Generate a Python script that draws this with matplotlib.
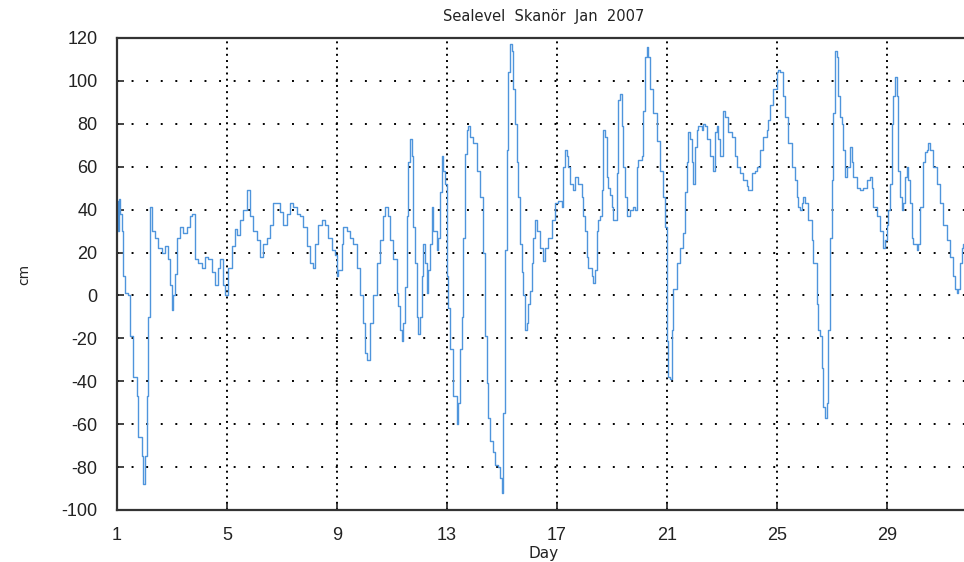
import matplotlib.pyplot as plt
import numpy as np

# ── DATA ─────────────────────────────────────────────────────────────
day = [
    1.00, 1.03, 1.06, 1.10, 1.17, 1.23, 1.29, 1.41, 1.47, 1.59, 1.71, 1.78, 1.90, 1.96,
    2.02, 2.08, 2.14, 2.20, 2.26, 2.38, 2.50, 2.62, 2.75, 2.87, 2.93, 2.99, 3.05, 3.11,
    3.17, 3.29, 3.41, 3.53, 3.65, 3.71, 3.84, 3.96, 4.08, 4.20, 4.32, 4.44, 4.56, 4.68,
    4.75, 4.87, 4.93, 5.05, 5.17, 5.29, 5.35, 5.47, 5.59, 5.71, 5.84, 5.96, 6.08, 6.20,
    6.32, 6.44, 6.56, 6.68, 6.81, 6.93, 7.05, 7.17, 7.29, 7.41, 7.53, 7.65, 7.77, 7.90,
    8.02, 8.14, 8.20, 8.32, 8.44, 8.56, 8.68, 8.81, 8.93, 8.99, 9.05, 9.17, 9.23, 9.35,
    9.47, 9.59, 9.71, 9.84, 9.96, 10.02, 10.08, 10.20, 10.32, 10.44, 10.56, 10.68, 10.75,
    10.87, 10.93, 11.05, 11.17, 11.23, 11.29, 11.35, 11.41, 11.47, 11.53, 11.59, 11.65,
    11.71, 11.78, 11.84, 11.90, 11.96, 12.02, 12.08, 12.14, 12.20, 12.26, 12.32, 12.38,
    12.44, 12.50, 12.62, 12.68, 12.75, 12.81, 12.87, 12.93, 12.99, 13.05, 13.11, 13.23,
    13.35, 13.41, 13.47, 13.53, 13.59, 13.65, 13.71, 13.77, 13.84, 13.96, 14.08, 14.20,
    14.32, 14.38, 14.44, 14.50, 14.56, 14.68, 14.75, 14.87, 14.93, 14.99, 15.05, 15.11,
    15.17, 15.23, 15.29, 15.35, 15.41, 15.47, 15.53, 15.59, 15.65, 15.71, 15.78, 15.84,
    15.90, 15.96, 16.02, 16.08, 16.14, 16.20, 16.26, 16.38, 16.50, 16.56, 16.68, 16.81,
    16.93, 17.05, 17.17, 17.23, 17.29, 17.35, 17.41, 17.47, 17.59, 17.65, 17.78, 17.90,
    17.96, 18.02, 18.08, 18.14, 18.26, 18.32, 18.38, 18.44, 18.50, 18.56, 18.62, 18.68,
    18.75, 18.81, 18.87, 18.93, 18.99, 19.05, 19.17, 19.23, 19.29, 19.35, 19.41, 19.47,
    19.53, 19.65, 19.78, 19.84, 19.90, 19.96, 20.08, 20.14, 20.20, 20.26, 20.32, 20.38,
    20.50, 20.62, 20.75, 20.87, 20.93, 20.99, 21.01, 21.05, 21.11, 21.17, 21.23, 21.35,
    21.47, 21.59, 21.65, 21.71, 21.78, 21.84, 21.90, 21.96, 22.02, 22.08, 22.14, 22.26,
    22.32, 22.38, 22.44, 22.56, 22.68, 22.75, 22.81, 22.87, 22.93, 23.05, 23.11, 23.23,
    23.35, 23.47, 23.53, 23.65, 23.78, 23.90, 23.96, 24.08, 24.20, 24.26, 24.38, 24.50,
    24.62, 24.68, 24.75, 24.87, 24.99, 25.05, 25.11, 25.23, 25.29, 25.41, 25.53, 25.65,
    25.71, 25.78, 25.84, 25.90, 25.96, 26.02, 26.14, 26.26, 26.32, 26.44, 26.50, 26.56,
    26.62, 26.68, 26.75, 26.81, 26.87, 26.93, 26.99, 27.05, 27.11, 27.17, 27.23, 27.29,
    27.35, 27.41, 27.47, 27.53, 27.65, 27.71, 27.78, 27.90, 28.02, 28.14, 28.26, 28.38,
    28.44, 28.50, 28.62, 28.75, 28.87, 28.93, 28.99, 29.05, 29.11, 29.17, 29.23, 29.29,
    29.35, 29.41, 29.47, 29.53, 29.59, 29.65, 29.71, 29.78, 29.84, 29.90, 29.96, 30.08,
    30.14, 30.20, 30.32, 30.38, 30.44, 30.50, 30.56, 30.68, 30.81, 30.93, 31.05, 31.17,
    31.29, 31.41, 31.47, 31.53, 31.59, 31.65, 31.71, 31.78, 31.90,
]
sealevel = [
    44, 30, 45, 38, 30, 9, 1, 0, -19, -38, -47, -66, -75, -88,
    -75, -47, -10, 41, 30, 27, 22, 20, 23, 17, 5, -7, 0, 10,
    27, 32, 29, 32, 37, 38, 17, 15, 13, 18, 17, 11, 5, 13,
    17, 5, 0, 13, 23, 31, 28, 35, 40, 49, 37, 30, 26, 18,
    24, 27, 33, 43, 43, 39, 33, 38, 43, 41, 38, 37, 32, 23,
    15, 13, 24, 33, 35, 33, 27, 21, 19, 9, 12, 24, 32, 30,
    27, 24, 13, 0, -13, -27, -30, -13, 0, 15, 26, 37, 41,
    37, 26, 17, 1, -5, -16, -21, -13, 4, 37, 62, 73,
    65, 32, 15, -10, -18, -10, 9, 24, 15, 1, 12, 24,
    41, 30, 21, 27, 48, 65, 58, 52, 9, -6, -25, -47,
    -60, -50, -25, -10, 27, 66, 77, 79, 74, 71, 58, 46,
    20, -19, -41, -57, -68, -73, -79, -80, -85, -92, -55, 21,
    68, 104, 117, 114, 96, 80, 62, 46, 24, 11, 0, -16,
    -13, -4, 2, 15, 27, 35, 30, 22, 16, 22, 27, 35,
    43, 44, 41, 60, 68, 65, 60, 52, 49, 55, 52, 46,
    37, 30, 18, 13, 9, 6, 12, 30, 35, 37, 49, 77,
    74, 55, 50, 47, 41, 35, 57, 91, 94, 79, 60, 46,
    37, 40, 41, 40, 60, 63, 65, 86, 111, 116, 111, 96,
    85, 72, 58, 46, 32, 7, -21, -38, -39, -16, 3, 15,
    22, 29, 48, 62, 76, 73, 62, 52, 69, 77, 79, 77,
    80, 79, 73, 65, 58, 76, 79, 73, 65, 86, 83, 76,
    74, 65, 60, 57, 54, 51, 49, 57, 58, 60, 68, 74,
    77, 82, 89, 96, 104, 105, 104, 93, 83, 71, 60, 54,
    46, 41, 40, 43, 46, 43, 35, 26, 15, -4, -16, -19,
    -34, -52, -57, -50, -16, 27, 54, 85, 114, 111, 93, 83,
    80, 68, 55, 60, 69, 62, 55, 50, 49, 50, 54, 55,
    50, 41, 37, 30, 22, 26, 33, 40, 52, 80, 93, 102,
    93, 58, 46, 40, 43, 55, 60, 54, 43, 27, 24, 21,
    24, 41, 62, 67, 68, 71, 68, 60, 52, 43, 33, 26,
    18, 9, 3, 1, 3, 15, 22, 24, 26,
]

x_ticks = [1, 5, 9, 13, 17, 21, 25, 29]
y_ticks = list(range(-100, 121, 20))

# ── PLOT ──────────────────────────────────────────────────────────────
plt.rcParams["font.family"] = ["Liberation Sans", "DejaVu Sans"]
plt.rcParams["axes.unicode_minus"] = False

fig = plt.figure(figsize=(9.64, 5.62), dpi=100)
# axes run a touch past the right edge, as in the scanned figure
ax = fig.add_axes([117 / 964, 1 - 510 / 562, (969.5 - 117) / 964, (510 - 38) / 562])

ax.plot(day, sealevel, color="#4f95dc", linewidth=1.0, drawstyle="steps-post")

ax.set_xlim(1, 32)
ax.set_ylim(-100, 120)
ax.set_xticks(x_ticks)
ax.set_yticks(y_ticks)
ax.tick_params(direction="in", length=5, width=1.2, labelsize=13,
               colors="#222222", top=False, right=False)
ax.tick_params(axis="y", pad=14)
ax.tick_params(axis="x", pad=12)

# dotted Matlab-style grid
for v in y_ticks[1:-1]:
    ax.axhline(v, color="black", linewidth=1.4, linestyle=(0, (1, 6.5)), zorder=0)
for d in x_ticks[1:]:
    ax.axvline(d, color="black", linewidth=1.4, linestyle=(0, (1, 2.2)), zorder=0)

for side in ax.spines.values():
    side.set_linewidth(1.6)
    side.set_color("#333333")

ax.set_title("Sealevel  Skanör  Jan  2007", fontsize=10.5, family="DejaVu Sans",
             color="#222222", pad=12)
ax.set_xlabel("Day", fontsize=11, family="DejaVu Sans", color="#222222", labelpad=2)
ax.set_ylabel("cm", fontsize=10, family="DejaVu Sans", color="#222222", labelpad=22)

fig.savefig("out.png", dpi=100)
